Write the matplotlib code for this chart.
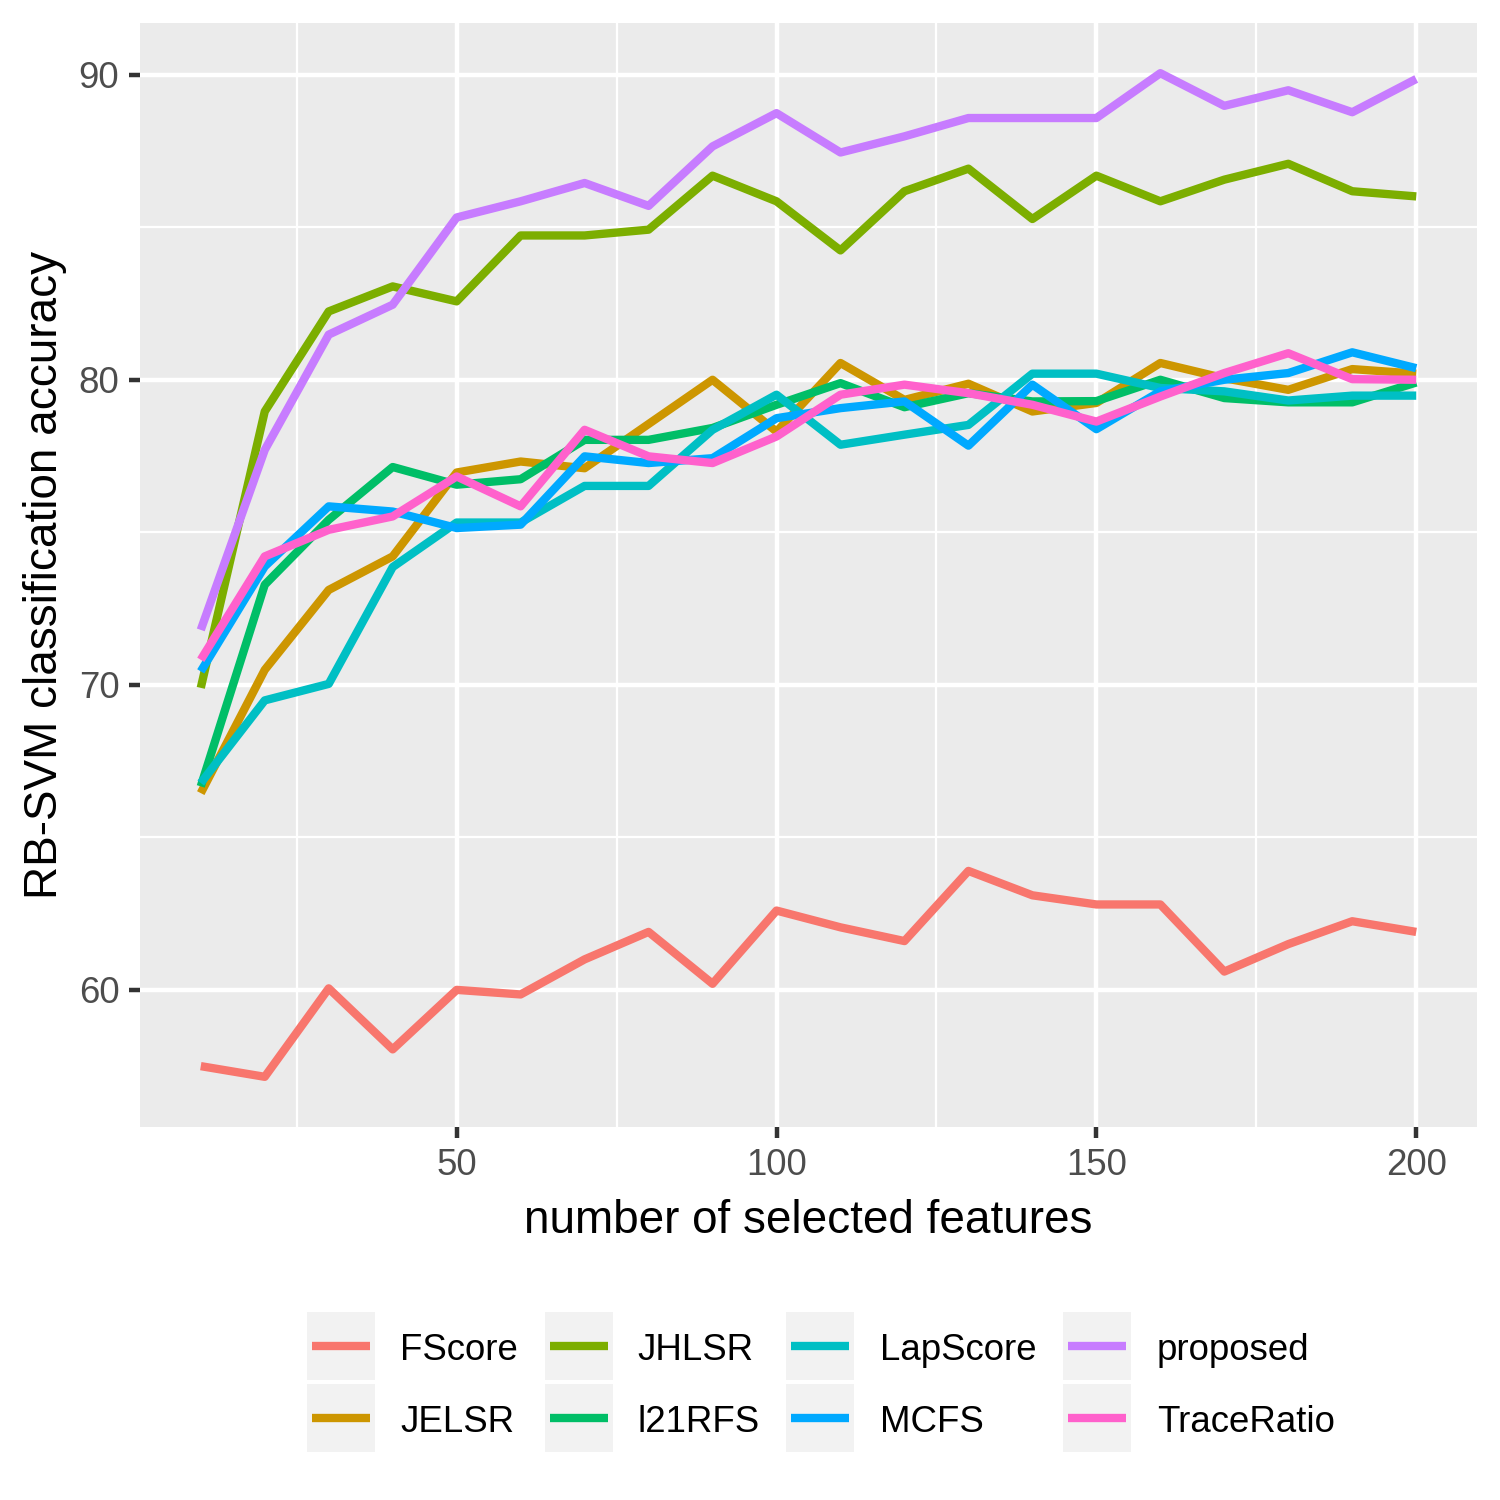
import matplotlib
matplotlib.use('Agg')
from matplotlib import pyplot as plt
from matplotlib.patches import Rectangle
from matplotlib.lines import Line2D

plt.rcParams['font.family'] = ['Liberation Sans', 'DejaVu Sans']

# number of selected features
n_feat = [10, 20, 30, 40, 50, 60, 70, 80, 90, 100,
          110, 120, 130, 140, 150, 160, 170, 180, 190, 200]

fscore = [57.5, 57.15, 60.05, 58.05, 60.0, 59.85, 61.0, 61.9, 60.2, 62.6,
          62.05, 61.6, 63.9, 63.1, 62.8, 62.8, 60.6, 61.5, 62.25, 61.9]
jelsr = [66.45, 70.49, 73.11, 74.21, 76.96, 77.32, 77.1, 78.55, 80.0, 78.3,
         80.55, 79.34, 79.87, 78.96, 79.24, 80.55, 80.05, 79.67, 80.35, 80.2]
jhlsr = [69.9, 78.96, 82.24, 83.06, 82.57, 84.73, 84.73, 84.92, 86.69, 85.85,
         84.24, 86.18, 86.92, 85.27, 86.69, 85.85, 86.56, 87.08, 86.18, 86.01]
l21rfs = [66.67, 73.28, 75.41, 77.14, 76.56, 76.74, 78.03, 78.03, 78.42, 79.18,
          79.89, 79.1, 79.56, 79.29, 79.3, 80.0, 79.4, 79.26, 79.26, 79.91]
lapscore = [66.78, 69.49, 70.03, 73.86, 75.32, 75.32, 76.52, 76.52, 78.36, 79.51,
            77.87, 78.2, 78.52, 80.2, 80.2, 79.73, 79.62, 79.32, 79.48, 79.48]
mcfs = [70.44, 73.88, 75.85, 75.68, 75.14, 75.25, 77.49, 77.27, 77.43, 78.74,
        79.07, 79.29, 77.84, 79.84, 78.38, 79.62, 80.0, 80.22, 80.9, 80.38]
proposed = [71.8, 77.7, 81.48, 82.46, 85.32, 85.85, 86.45, 85.7, 87.65, 88.74,
            87.45, 87.98, 88.58, 88.58, 88.58, 90.05, 88.98, 89.49, 88.77, 89.86]
traceratio = [70.82, 74.21, 75.08, 75.52, 76.83, 75.85, 78.36, 77.49, 77.27, 78.14,
              79.51, 79.84, 79.56, 79.18, 78.63, 79.45, 80.22, 80.87, 80.02, 80.0]

methods = ['FScore', 'JELSR', 'JHLSR', 'l21RFS', 'LapScore', 'MCFS', 'proposed', 'TraceRatio']
series = [fscore, jelsr, jhlsr, l21rfs, lapscore, mcfs, proposed, traceratio]
colors = ['#F8766D', '#CD9600', '#7CAE00', '#00BE67', '#00BFC4', '#00A9FF', '#C77CFF', '#FF61CC']

W = H = 1500
fig = plt.figure(figsize=(5, 5), dpi=300)
ax = fig.add_axes([140 / W, 1 - 1127 / H, (1477 - 140) / W, (1127 - 23) / H])
ax.set_facecolor('#EBEBEB')
for s in ax.spines.values():
    s.set_visible(False)

for name, ys, c in zip(methods, series, colors):
    ax.plot(n_feat, ys, color=c, lw=2.0, solid_capstyle='butt', solid_joinstyle='round', zorder=3)

# ggplot style expanded limits
xr = max(n_feat) - min(n_feat)
ax.set_xlim(min(n_feat) - 0.05 * xr, max(n_feat) + 0.05 * xr)
allv = [v for ys in series for v in ys]
yr = max(allv) - min(allv)
ax.set_ylim(min(allv) - 0.05 * yr, max(allv) + 0.05 * yr)

ax.set_xticks([50, 100, 150, 200])
ax.set_yticks([60, 70, 80, 90])
ax.set_xticks([25, 75, 125, 175], minor=True)
ax.set_yticks([65, 75, 85], minor=True)
ax.grid(which='major', color='white', lw=1.07, zorder=1)
ax.grid(which='minor', color='white', lw=0.53, zorder=1)
ax.set_axisbelow(True)
ax.tick_params(which='major', length=2.75, width=1.07, color='#333333',
               labelsize=8.8, labelcolor='#4D4D4D', pad=2.2)
ax.tick_params(which='minor', length=0)

ax.set_xlabel('number of selected features', fontsize=11, color='black', labelpad=4)
ax.set_ylabel('RB-SVM classification accuracy', fontsize=11, color='black', labelpad=2.8)

# legend drawn as ggplot-like key boxes, 4 columns x 2 rows (column-major)
col_key_x = [307, 545, 786, 1063]
col_txt_x = [400, 637, 880, 1157]
row_key_y = [1312, 1384]
key_w, key_h = 68, 68
for i, (name, c) in enumerate(zip(methods, colors)):
    col, row = i // 2, i % 2
    x0 = col_key_x[col]
    y0 = row_key_y[row]
    fig.patches.append(Rectangle((x0 / W, 1 - (y0 + key_h) / H), key_w / W, key_h / H,
                                 transform=fig.transFigure, facecolor='#F2F2F2',
                                 edgecolor='none'))
    yc = 1 - (y0 + key_h / 2) / H
    fig.lines.append(Line2D([(x0 + 5) / W, (x0 + key_w - 5) / W], [yc, yc],
                            transform=fig.transFigure, color=c, lw=2.0,
                            solid_capstyle='butt'))
    fig.text(col_txt_x[col] / W, yc - 4 / H, name, fontsize=8.8, color='black',
             ha='left', va='center')

fig.savefig('out.png', dpi=300, facecolor='white')
